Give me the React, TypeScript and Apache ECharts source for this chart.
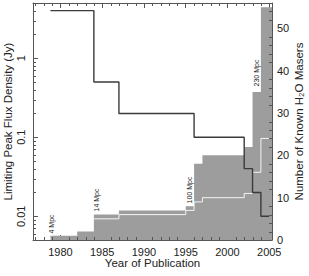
import React, { useEffect, useRef } from "react";
import * as echarts from "echarts";

// Limiting peak flux density (Jy), step line, left log axis
const fluxYears = [1978.8, 1984, 1987, 1996, 2002, 2003, 2004, 2005];
const fluxLimits = [4, 0.5, 0.2, 0.1, 0.04, 0.02, 0.01, 0.01];

// Number of known H2O masers (grey filled histogram), right axis
const maserYears = [1978.8, 1982, 1984, 1987, 1995, 1996, 1997, 2002, 2003, 2004, 2005.33];
const maserCounts = [1, 2, 6, 7, 8, 18, 20, 22, 35, 55, 55];

// White step line inside the grey area, right axis
const subsetYears = [1984, 1987, 1995, 1996, 1997, 2002, 2003, 2004, 2005.33];
const subsetCounts = [5, 6, 7, 9, 10, 11, 16, 24, 24];

// Tick labels
const yearLabels = [1980, 1985, 1990, 1995, 2000, 2005];
const yearMinorTicks = [
  1977, 1978, 1979, 1981, 1982, 1983, 1984, 1986, 1987, 1988, 1989, 1991, 1992, 1993, 1994,
  1996, 1997, 1998, 1999, 2001, 2002, 2003, 2004,
];
const countLabels = [0, 10, 20, 30, 40, 50];
const countMinorTicks = [2, 4, 6, 8, 12, 14, 16, 18, 22, 24, 26, 28, 32, 34, 36, 38, 42, 44, 46, 48, 52, 54];
const fluxLabels = [0.01, 0.1, 1];
const fluxMinorTicks = [
  0.005, 0.006, 0.007, 0.008, 0.009,
  0.02, 0.03, 0.04, 0.05, 0.06, 0.07, 0.08, 0.09,
  0.2, 0.3, 0.4, 0.5, 0.6, 0.7, 0.8, 0.9,
  2, 3, 4,
];

const distanceLabels = ["4 Mpc", "14 Mpc", "100 Mpc", "230 Mpc"];

const FONT = "Liberation Sans, Arial, Helvetica, sans-serif";
const AXIS_COLOR = "#555";
const X_MIN = 1976.71;
const X_MAX = 2005.33;

export default function App() {
  const ref = useRef<HTMLDivElement>(null);

  useEffect(() => {
    document.body.style.margin = "0";
    if (!ref.current) return;
    const chart = echarts.init(ref.current, undefined, { renderer: "svg" });

    const tickStyle = { color: AXIS_COLOR, width: 1 };
    const labelStyle = { fontFamily: FONT, fontSize: 11, color: "#222" };
    const nameStyle = { fontFamily: FONT, fontSize: 11.5, color: "#222" };

    const xBase: any = {
      type: "value",
      min: X_MIN,
      max: X_MAX,
      splitLine: { show: false },
      axisLine: { show: true, lineStyle: { color: AXIS_COLOR, width: 1 } },
    };

    const annot = (i: number, x: number, y: number) => ({
      type: "text",
      x,
      y,
      rotation: Math.PI / 2,
      style: {
        text: distanceLabels[i],
        fontSize: 7,
        fontFamily: FONT,
        fill: "#222",
        align: "center",
        verticalAlign: "middle",
      },
      z: 10,
    });

    const option: any = {
      animation: false,
      backgroundColor: "#fff",
      grid: { left: 33, right: 37, top: 3, bottom: 36, containLabel: false, outerBoundsMode: "none" },
      xAxis: [
        {
          ...xBase,
          position: "bottom",
          axisTick: { show: true, inside: true, length: 5, customValues: yearLabels, lineStyle: tickStyle },
          axisLabel: { ...labelStyle, margin: 6, customValues: yearLabels, formatter: (v: number) => String(Math.round(v)) },
          name: "Year of Publication",
          nameLocation: "middle",
          nameGap: 17,
          nameMoveOverlap: false,
          nameTextStyle: nameStyle,
        },
        {
          ...xBase,
          position: "top",
          axisTick: { show: true, inside: true, length: 5, customValues: yearLabels, lineStyle: tickStyle },
          axisLabel: { show: false },
        },
      ],
      yAxis: [
        {
          type: "log",
          position: "left",
          min: 0.005,
          max: 5,
          splitLine: { show: false },
          axisLine: { show: true, lineStyle: { color: AXIS_COLOR, width: 1 } },
          axisTick: { show: true, inside: true, length: 5, customValues: fluxLabels, lineStyle: tickStyle },
          axisLabel: { ...labelStyle, rotate: 90, margin: 7, customValues: fluxLabels },
          name: "Limiting Peak Flux Density (Jy)",
          nameLocation: "middle",
          nameRotate: 90,
          nameGap: 19,
          nameMoveOverlap: false,
          nameTextStyle: nameStyle,
        },
        {
          type: "value",
          position: "right",
          min: 0,
          max: 56,
          splitLine: { show: false },
          axisLine: { show: true, lineStyle: { color: AXIS_COLOR, width: 1 } },
          axisTick: { show: true, inside: true, length: 5, customValues: countLabels, lineStyle: tickStyle },
          axisLabel: { ...labelStyle, margin: 5, customValues: countLabels },
          name: "Number of Known H₂O Masers",
          nameLocation: "middle",
          nameRotate: 90,
          nameGap: 21,
          nameMoveOverlap: false,
          nameTextStyle: nameStyle,
        },
      ],
      series: [
        {
          type: "line",
          name: "masers",
          xAxisIndex: 0,
          yAxisIndex: 1,
          step: "end",
          symbol: "none",
          lineStyle: { width: 0 },
          areaStyle: { color: "#9d9d9d", opacity: 1 },
          data: maserYears.map((y, i) => [y, maserCounts[i]]),
          z: 1,
        },
        {
          type: "line",
          name: "subset",
          xAxisIndex: 0,
          yAxisIndex: 1,
          step: "end",
          symbol: "none",
          lineStyle: { width: 1, color: "#f4f4f4" },
          data: subsetYears.map((y, i) => [y, subsetCounts[i]]),
          z: 2,
        },
        {
          type: "line",
          name: "flux",
          xAxisIndex: 0,
          yAxisIndex: 0,
          step: "end",
          symbol: "none",
          lineStyle: { width: 1.4, color: "#3a3a3a" },
          data: fluxYears.map((y, i) => [y, fluxLimits[i]]),
          z: 3,
        },
        {
          type: "custom",
          name: "yearMinor",
          xAxisIndex: 0,
          yAxisIndex: 0,
          silent: true,
          data: yearMinorTicks.map((y) => [y, 1]),
          renderItem: (params: any, api: any) => {
            const cs = params.coordSys;
            const x = Math.round(api.coord([api.value(0), 1])[0]) + 0.5;
            const yb = cs.y + cs.height;
            return {
              type: "group",
              children: [
                { type: "line", shape: { x1: x, y1: yb, x2: x, y2: yb - 3 }, style: { stroke: AXIS_COLOR, lineWidth: 1 } },
                { type: "line", shape: { x1: x, y1: cs.y, x2: x, y2: cs.y + 3 }, style: { stroke: AXIS_COLOR, lineWidth: 1 } },
              ],
            };
          },
          z: 5,
        },
        {
          type: "custom",
          name: "fluxMinor",
          xAxisIndex: 0,
          yAxisIndex: 0,
          silent: true,
          data: fluxMinorTicks.map((v) => [1990, v]),
          renderItem: (params: any, api: any) => {
            const cs = params.coordSys;
            const y = Math.round(api.coord([1990, api.value(1)])[1]) + 0.5;
            return { type: "line", shape: { x1: cs.x, y1: y, x2: cs.x + 3, y2: y }, style: { stroke: AXIS_COLOR, lineWidth: 1 } };
          },
          z: 5,
        },
        {
          type: "custom",
          name: "countMinor",
          xAxisIndex: 0,
          yAxisIndex: 1,
          silent: true,
          data: countMinorTicks.map((v) => [1990, v]),
          renderItem: (params: any, api: any) => {
            const cs = params.coordSys;
            const y = Math.round(api.coord([1990, api.value(1)])[1]) + 0.5;
            const xr = cs.x + cs.width;
            return { type: "line", shape: { x1: xr, y1: y, x2: xr - 3, y2: y }, style: { stroke: AXIS_COLOR, lineWidth: 1 } };
          },
          z: 5,
        },
      ],
      graphic: [annot(0, 51, 224), annot(1, 96, 200), annot(2, 189.5, 190), annot(3, 256, 73)],
    };

    chart.setOption(option);
    return () => chart.dispose();
  }, []);

  return (
    <div
      ref={ref}
      style={{ position: "fixed", left: 0, top: 0, width: 309, height: 276, background: "#fff" }}
    />
  );
}
